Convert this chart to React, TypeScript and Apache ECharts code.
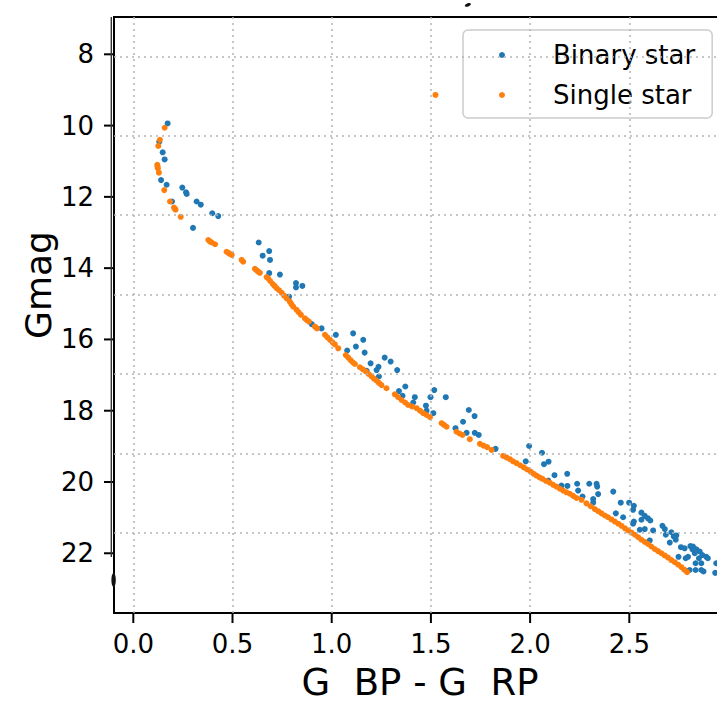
import React, { useEffect, useRef } from "react";
import * as echarts from "echarts";

// ---- data ----
const binaryX = [
  0.173, 0.131, 0.148, 0.158, 0.14, 0.168, 0.247, 0.266, 0.269, 0.195, 0.319, 0.34, 0.398, 0.428, 0.301,
  0.632, 0.685, 0.652, 0.689, 0.685, 0.739, 0.82, 0.82, 0.852, 0.785, 0.899, 0.949, 1.021, 1.108, 1.122,
  1.159, 1.078, 1.166, 1.196, 1.236, 1.226, 1.267, 1.297, 1.176, 1.238, 1.33, 1.371, 1.339, 1.357, 1.419,
  1.411, 1.475, 1.478, 1.498, 1.517, 1.512, 1.575, 1.624, 1.662, 1.691, 1.72, 1.68, 1.721, 1.741, 1.826,
  1.995, 1.978, 2.06, 2.07, 2.093, 2.091, 2.123, 2.187, 2.158, 2.188, 2.237, 2.242, 2.264, 2.298, 2.335,
  2.338, 2.343, 2.318, 2.318, 2.419, 2.457, 2.432, 2.469, 2.499, 2.523, 2.519, 2.523, 2.519, 2.561, 2.561,
  2.578, 2.594, 2.606, 2.553, 2.578, 2.62, 2.603, 2.667, 2.679, 2.684, 2.712, 2.724, 2.737, 2.734, 2.704,
  2.76, 2.779, 2.748, 2.784, 2.796, 2.808, 2.821, 2.818, 2.838, 2.83, 2.855, 2.868, 2.888, 2.896, 2.851,
  2.834, 2.804, 2.834, 2.863, 2.874, 2.863, 2.938, 2.933,
];
const binaryMag = [
  9.94, 10.45, 10.75, 10.95, 11.53, 11.66, 11.74, 11.87, 11.92, 12.13, 12.13, 12.22, 12.46, 12.54, 12.87,
  13.28, 13.52, 13.65, 13.77, 14.14, 14.18, 14.42, 14.54, 14.5, 14.8, 15.57, 15.69, 15.87, 15.83, 16.2,
  16.01, 16.31, 16.37, 16.67, 16.77, 16.86, 16.51, 16.62, 16.88, 17.04, 16.86, 17.32, 17.45, 17.58, 17.62,
  17.77, 17.86, 18.0, 17.62, 17.42, 18.07, 17.62, 18.49, 18.31, 17.98, 18.15, 18.62, 18.62, 18.68, 19.07,
  18.99, 19.42, 19.18, 19.5, 19.43, 19.96, 19.81, 19.77, 20.1, 20.11, 20.05, 20.24, 20.41, 20.05, 20.05,
  20.13, 20.34, 20.48, 20.58, 20.27, 20.58, 20.88, 20.99, 20.58, 20.67, 20.78, 21.11, 21.17, 21.06, 20.86,
  20.95, 21.02, 21.08, 21.34, 21.32, 21.36, 21.64, 21.23, 21.32, 21.48, 21.41, 21.53, 21.5, 21.62, 21.7,
  21.83, 21.86, 22.1, 22.14, 22.1, 21.8, 21.81, 21.89, 21.89, 22.0, 21.95, 22.05, 22.1, 22.14, 22.14,
  22.28, 22.47, 22.47, 22.47, 22.51, 22.28, 22.28, 22.55,
];

const singleX = [
  0.158, 0.134, 0.126, 0.121, 0.122, 0.124, 0.129, 0.156, 0.185, 0.205, 0.209, 0.213, 0.239,
  0.378, 0.386, 0.395, 0.412, 0.47, 0.479, 0.487, 0.496, 0.546, 0.554, 0.613, 0.622, 0.63, 0.638,
  0.672, 0.68, 0.69, 0.702, 0.712, 0.722, 0.735, 0.748, 0.76, 0.773, 0.789, 0.797, 0.806, 0.823,
  0.834, 0.845, 0.865, 0.875, 0.885, 0.915, 0.926, 0.966, 0.978, 0.991, 1.004, 1.016, 1.033, 1.071,
  1.083, 1.095, 1.106, 1.117, 1.142, 1.157, 1.172, 1.186, 1.201, 1.213, 1.226, 1.238, 1.251, 1.276,
  1.318, 1.335, 1.352, 1.37, 1.385, 1.405, 1.428, 1.445, 1.461, 1.478, 1.495, 1.554, 1.566, 1.579,
  1.629, 1.644, 1.659, 1.696, 1.747, 1.765, 1.783, 1.806, 1.864, 1.881, 1.898, 1.914, 1.931, 1.95,
  1.968, 1.985, 2.003, 2.018, 2.032, 2.047, 2.062, 2.08, 2.099, 2.116, 2.133, 2.15, 2.166, 2.183,
  2.2, 2.217, 2.234, 2.259, 2.284, 2.305, 2.326, 2.343, 2.36, 2.377, 2.393, 2.41, 2.427, 2.444,
  2.461, 2.478, 2.494, 2.511, 2.528, 2.545, 2.561, 2.578, 2.594, 2.611, 2.628, 2.645, 2.662, 2.678,
  2.695, 2.712, 2.729, 2.746, 2.763, 2.777, 2.791, 1.523,
];
const singleMag = [
  10.06, 10.4, 10.57, 11.1, 11.15, 11.2, 11.32, 11.81, 12.13, 12.3, 12.33, 12.36, 12.56,
  13.21, 13.25, 13.28, 13.33, 13.54, 13.57, 13.6, 13.63, 13.77, 13.82, 14.02, 14.06, 14.1, 14.13,
  14.25, 14.29, 14.36, 14.44, 14.5, 14.56, 14.62, 14.69, 14.77, 14.85, 14.94, 15.01, 15.08, 15.17,
  15.24, 15.31, 15.41, 15.46, 15.5, 15.64, 15.69, 15.87, 15.94, 16.01, 16.08, 16.14, 16.25, 16.44,
  16.51, 16.58, 16.64, 16.69, 16.78, 16.84, 16.9, 16.97, 17.04, 17.1, 17.16, 17.22, 17.28, 17.37,
  17.54, 17.62, 17.7, 17.77, 17.84, 17.88, 17.93, 18.0, 18.07, 18.12, 18.18, 18.35, 18.4, 18.45,
  18.59, 18.64, 18.68, 18.8, 18.93, 18.98, 19.02, 19.1, 19.27, 19.31, 19.36, 19.42, 19.47, 19.53,
  19.59, 19.65, 19.71, 19.77, 19.82, 19.87, 19.91, 19.97, 20.02, 20.08, 20.13, 20.19, 20.24, 20.29,
  20.33, 20.39, 20.45, 20.5, 20.6, 20.68, 20.76, 20.82, 20.88, 20.94, 20.99, 21.05, 21.11, 21.17,
  21.23, 21.3, 21.36, 21.42, 21.48, 21.55, 21.62, 21.68, 21.74, 21.81, 21.88, 21.94, 22.0, 22.06,
  22.12, 22.19, 22.25, 22.32, 22.39, 22.46, 22.53, 9.14,
];

const seriesNames = ["Binary star", "Single star"];
const xTickMin = 0;
const xTickMax = 2.5;
const xTickStep = 0.5;
const yTickMin = 8;
const yTickMax = 22;
const yTickStep = 2;
const xTickValues = [0, 0.5, 1.0, 1.5, 2.0, 2.5];
// horizontal dotted grid of the figure (not aligned with the Gmag ticks)
const hGridMag = [8.068, 10.292, 12.508, 14.752, 16.968, 19.212, 21.428];

// visible data window
const X_MIN = -0.0973;
const X_MAX = 2.9874;
const Y_MIN = 6.953;
const Y_MAX = 23.676;

// layout (pixels)
const PLOT_LEFT = 114;
const PLOT_TOP = 17;
const PLOT_BOTTOM_PX = 613;
const PX_PER_X = 198.4;
const PX_PER_MAG = 596 / (Y_MAX - Y_MIN);
const TICK_LEN = 10;

const FONT = "DejaVu Sans";
const GRID_LINE = { color: "#b4b4b4", width: 1.5, type: [2, 4] as number[] };

export default function App() {
  const ref = useRef<HTMLDivElement>(null);

  useEffect(() => {
    if (!ref.current) return;
    const chart = echarts.init(ref.current, undefined, { renderer: "svg" });

    const binaryData = binaryX.map((x, i) => [x, binaryMag[i]]);
    const singleData = singleX.map((x, i) => [x, singleMag[i]]);

    const plotWidth = (X_MAX - X_MIN) * PX_PER_X;

    // label grid: same scale as the data grid but starting exactly on the first tick
    const tickLeft = PLOT_LEFT + (xTickMin - X_MIN) * PX_PER_X;
    const tickWidth = (xTickMax - xTickMin) * PX_PER_X;
    const tickTop = PLOT_TOP + (yTickMin - Y_MIN) * PX_PER_MAG;
    const tickHeight = (yTickMax - yTickMin) * PX_PER_MAG;
    const xOffset = PLOT_BOTTOM_PX - (tickTop + tickHeight);
    const yOffset = tickLeft - PLOT_LEFT;

    // tick marks are drawn as part of each tick label (a black bar next to the number)
    const xLabelRich = {
      t: { width: 2, height: TICK_LEN, backgroundColor: "#000", lineHeight: TICK_LEN },
      v: { fontSize: 26, fontFamily: FONT, color: "#000", lineHeight: 42, align: "center" },
    };
    const yLabelRich = {
      v: { fontSize: 26, fontFamily: FONT, color: "#000", lineHeight: 30 },
      g: { width: 10, height: 2 },
      t: { width: TICK_LEN, height: 2, backgroundColor: "#000" },
    };

    const option: any = {
      animation: false,
      textStyle: { fontFamily: FONT },
      grid: [
        {
          left: PLOT_LEFT,
          top: PLOT_TOP,
          width: plotWidth,
          bottom: 705 - PLOT_BOTTOM_PX,
          show: true,
          borderColor: "#000",
          borderWidth: 2,
          backgroundColor: "transparent",
          containLabel: false,
          outerBoundsMode: "none",
        },
        {
          left: tickLeft,
          top: tickTop,
          width: tickWidth,
          height: tickHeight,
          show: false,
          containLabel: false,
          outerBoundsMode: "none",
        },
      ],
      legend: {
        data: seriesNames,
        orient: "vertical",
        left: 463,
        top: 30,
        padding: [12, 17, 10, 36],
        itemGap: 14,
        itemWidth: 6,
        itemHeight: 6,
        icon: "circle",
        backgroundColor: "rgba(255,255,255,0.92)",
        borderColor: "#cccccc",
        borderWidth: 1.5,
        borderRadius: 5,
        textStyle: {
          fontSize: 26,
          lineHeight: 26,
          fontFamily: FONT,
          color: "#000",
          padding: [0, 0, 0, 43],
        },
      },
      xAxis: [
        {
          type: "value",
          gridIndex: 0,
          min: X_MIN,
          max: X_MAX,
          name: "G  BP - G  RP",
          nameLocation: "middle",
          nameGap: 51,
          nameTextStyle: { fontSize: 37, fontFamily: FONT, color: "#000" },
          axisLine: { show: true, onZero: false, lineStyle: { color: "#000", width: 2 } },
          axisTick: { show: false },
          axisLabel: { show: false },
          splitLine: { show: false },
        },
        {
          type: "value",
          gridIndex: 1,
          min: xTickMin,
          max: xTickMax,
          interval: xTickStep,
          offset: xOffset,
          axisLine: { show: false, onZero: false },
          axisTick: { show: false },
          axisLabel: {
            show: true,
            margin: 0,
            align: "center",
            verticalAlign: "top",
            formatter: (v: number) => `{t|}\n{v|${v.toFixed(1)}}`,
            rich: xLabelRich,
          },
          splitLine: { show: false },
        },
      ],
      yAxis: [
        {
          type: "value",
          gridIndex: 0,
          inverse: true,
          min: Y_MIN,
          max: Y_MAX,
          name: "Gmag",
          nameLocation: "middle",
          nameGap: 58,
          nameTextStyle: { fontSize: 36, fontFamily: FONT, color: "#000", padding: [0, 0, 0, 60] },
          axisLine: { show: true, onZero: false, lineStyle: { color: "#000", width: 2 } },
          axisTick: { show: false },
          axisLabel: { show: false },
          splitLine: { show: false },
        },
        {
          type: "value",
          gridIndex: 1,
          inverse: true,
          min: yTickMin,
          max: yTickMax,
          interval: yTickStep,
          offset: yOffset,
          axisLine: { show: false, onZero: false },
          axisTick: { show: false },
          axisLabel: {
            show: true,
            margin: 0,
            align: "right",
            verticalAlign: "middle",
            formatter: (v: number) => `{v|${Math.round(v)}}{g|}{t|}`,
            rich: yLabelRich,
          },
          splitLine: { show: false },
        },
      ],
      series: [
        {
          type: "scatter",
          xAxisIndex: 0,
          yAxisIndex: 0,
          data: [],
          z: 1,
          silent: true,
          markLine: {
            silent: true,
            symbol: "none",
            animation: false,
            label: { show: false },
            lineStyle: GRID_LINE,
            emphasis: { disabled: true },
            data: [
              ...xTickValues.map((v) => ({ xAxis: v })),
              ...hGridMag.map((v) => ({ yAxis: v })),
            ],
          },
        },
        {
          name: seriesNames[0],
          type: "scatter",
          xAxisIndex: 0,
          yAxisIndex: 0,
          z: 3,
          symbolSize: 6,
          itemStyle: { color: "#1f77b4", opacity: 1 },
          data: binaryData,
        },
        {
          name: seriesNames[1],
          type: "scatter",
          xAxisIndex: 0,
          yAxisIndex: 0,
          z: 4,
          symbolSize: 6,
          itemStyle: { color: "#ff7f0e", opacity: 1 },
          data: singleData,
        },
      ],
      graphic: {
        elements: [
          {
            type: "rect",
            id: "spine2",
            silent: true,
            z: 100,
            shape: { x: 110.6, y: PLOT_TOP, width: 1.4, height: 557 - PLOT_TOP },
            style: { fill: "#333" },
          },
          {
            type: "ellipse",
            id: "frag1",
            silent: true,
            z: 100,
            shape: { cx: 113.6, cy: 580, rx: 2.2, ry: 7 },
            style: { fill: "#111" },
          },
          {
            type: "ellipse",
            id: "frag2",
            silent: true,
            z: 100,
            shape: { cx: 468, cy: 5, rx: 3.2, ry: 1.6 },
            rotation: 0.35,
            originX: 468,
            originY: 5,
            style: { fill: "#111" },
          },
        ],
      },
    };

    chart.setOption(option);
    return () => chart.dispose();
  }, []);

  return (
    <div
      ref={ref}
      style={{ position: "fixed", left: 0, top: 0, width: 717, height: 705, background: "#fff" }}
    />
  );
}
